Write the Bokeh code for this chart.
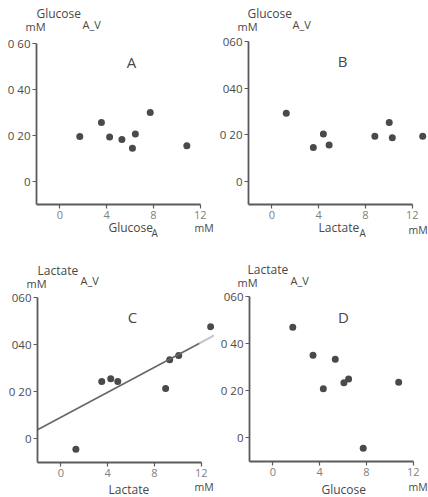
from bokeh.plotting import figure
from bokeh.layouts import column, row
from bokeh.models import Range1d, FixedTicker, Label, LinearAxis
from bokeh.embed import file_html
from bokeh.resources import INLINE

# ---------------- data ----------------
x_ticks = [0, 4, 8, 12]
y_ticks = [0, 0.2, 0.4, 0.6]

glucose_a = [1.70, 3.55, 4.25, 5.30, 6.20, 6.45, 7.72, 10.85]
glucose_av_a = [0.196, 0.257, 0.193, 0.183, 0.145, 0.207, 0.300, 0.155]

lactate_b = [1.23, 3.54, 4.40, 4.89, 8.80, 10.03, 10.29, 12.89]
glucose_av_b = [0.292, 0.145, 0.203, 0.155, 0.193, 0.252, 0.187, 0.193]

lactate_c = [1.28, 3.49, 4.26, 4.86, 8.95, 9.30, 10.07, 12.80]
lactate_av_c = [-0.044, 0.244, 0.255, 0.244, 0.214, 0.336, 0.354, 0.476]

glucose_d = [1.70, 3.43, 4.31, 5.33, 6.07, 6.47, 7.72, 10.75]
lactate_av_d = [0.470, 0.351, 0.209, 0.334, 0.234, 0.250, -0.044, 0.236]

fit_x = [-2.0, 11.85]
fit_y = [0.039, 0.406]
fit_ext_x = [11.85, 13.2]
fit_ext_y = [0.406, 0.442]

FONT = "Open Sans"
TXT = "#484848"
PT = "#4a4a4a"
W = 214
SX = 11.7  # px per x unit


def make_panel(xs, ys, letter, ytitle, xtitle, ylabels, left, top, bottom_axis, height, geo):
    # left: px of y-axis line; top: px of y=0.6; bottom_axis: px of y=-0.1
    sy = (bottom_axis - top) / 0.7
    x0 = -2 - left / SX
    x1 = x0 + W / SX
    y1 = 0.6 + top / sy
    y0 = y1 - height / sy

    p = figure(width=W, height=height, output_backend="svg", toolbar_location=None,
               x_range=Range1d(x0, x1), y_range=Range1d(y0, y1),
               x_axis_location=None, y_axis_location=None,
               min_border=0, min_border_left=0, min_border_right=0,
               min_border_top=0, min_border_bottom=0,
               outline_line_color=None, background_fill_color="white")
    p.grid.visible = False

    def dx(px):
        return x0 + px / SX

    def dy(py):
        return y1 - py / sy

    xa = LinearAxis(fixed_location=-0.1, bounds=(-2, 12), ticker=FixedTicker(ticks=x_ticks))
    ya = LinearAxis(fixed_location=-2, bounds=(-0.1, 0.6), ticker=FixedTicker(ticks=y_ticks))
    for ax in (xa, ya):
        ax.axis_line_color = "#5a5a5a"
        ax.axis_line_width = 1.8
        ax.major_tick_line_color = "#5a5a5a"
        ax.major_tick_line_width = 1.2
        ax.major_tick_in = 0
        ax.major_tick_out = 4
        ax.minor_tick_line_color = None
        ax.major_label_text_font = FONT
        ax.major_label_standoff = 2
    xa.major_label_text_font_size = "11px"
    ya.major_label_text_font_size = "11.5px"
    xa.major_label_text_color = "#808080"
    ya.major_label_text_color = "#4a4a4a"
    ya.major_label_overrides = {t: l for t, l in zip(y_ticks, ylabels)}
    p.add_layout(xa, "below")
    p.add_layout(ya, "left")

    def lab(text, px, py, size="12px", align="left", color=TXT):
        p.add_layout(Label(x=dx(px), y=dy(py), text=text, text_font=FONT,
                           text_font_size=size, text_color=color,
                           text_align=align, text_baseline="middle"))

    g = geo
    lab(ytitle, *g["yt"])
    lab("mM", *g["mm"], size="11px")
    lab("A_V", *g["av"], size="11px")
    lab(letter, *g["let"], size="15px", align="center")
    lab(xtitle, *g["xt"])
    if "sub" in g:
        lab("A", *g["sub"], size="10px")
    lab("mM", *g["mmx"], size="10.5px")

    p.scatter(xs, ys, size=7, color=PT, line_color=None)
    return p


pA = make_panel(glucose_a, glucose_av_a, "A", "Glucose", "Glucose",
                ["0", "0 20", "0 40", "0 60"], 36, 43, 204, 240,
                dict(yt=(36, 13), mm=(25, 26), av=(82, 24), let=(131, 61),
                     xt=(108, 227), sub=(151, 232), mmx=(194, 227)))
pB = make_panel(lactate_b, glucose_av_b, "B", "Glucose", "Lactate",
                ["0", "0 20", "040", "060"], 34, 41, 204, 240,
                dict(yt=(33, 13), mm=(23, 26), av=(78, 24), let=(128, 60),
                     xt=(104, 227), sub=(145, 232), mmx=(194, 229)))
pC = make_panel(lactate_c, lactate_av_c, "C", "Lactate", "Lactate",
                ["0", "0 20", "040", "060"], 37, 57, 222, 257,
                dict(yt=(37, 30), mm=(26, 43), av=(80, 40), let=(132, 76),
                     xt=(108, 249), mmx=(194, 246)))
pC.line(fit_x, fit_y, line_color="#666666", line_width=1.6)
pC.line(fit_ext_x, fit_ext_y, line_color="#c8c8c8", line_width=2.2)
pD = make_panel(glucose_d, lactate_av_d, "D", "Lactate", "Glucose",
                ["0", "0 20", "0 40", "060"], 35, 56, 221, 257,
                dict(yt=(33, 29), mm=(23, 42), av=(76, 40), let=(129, 76),
                     xt=(107, 249), mmx=(194, 246)))

layout = column(row(pA, pB), row(pC, pD))
open("out.html", "w").write(file_html(layout, INLINE))
